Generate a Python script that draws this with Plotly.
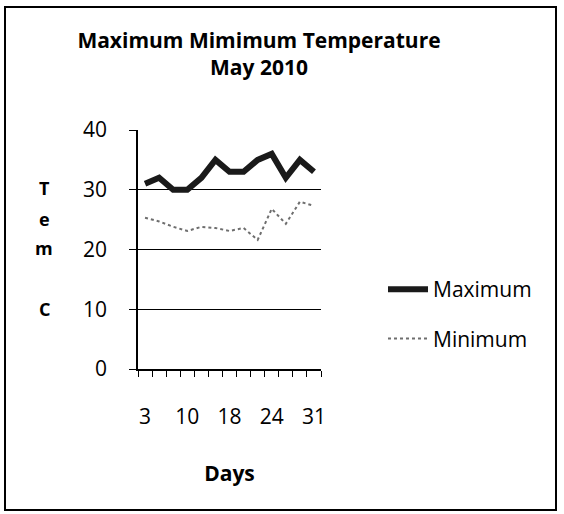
import plotly.graph_objects as go

# ---- data ----
days = [3, 5, 8, 10, 13, 15, 18, 20, 22, 24, 26, 29, 31]
maximum = [31, 32, 30, 30, 32, 35, 33, 33, 35, 36, 32, 35, 33]
minimum = [25.3, 24.7, 23.8, 23.1, 23.8, 23.6, 23.1, 23.6, 21.6, 26.8, 24.3, 28.0, 27.3]
label_every = 3
y_ticks = [0, 10, 20, 30, 40]

# the page's body margin is removed by a post script, so window px == figure px
W, H = 564, 514
# plot area in window pixels: x 138..321, y 130..369
ML, MT = 138, 130
PW, PH = 321 - 138, 369 - 130
MR, MB = W - ML - PW, H - MT - PH

def px_x(px):
    return (px - ML) / PW

def px_y(py):
    return (MT + PH - py) / PH

FONT = "Open Sans"
idx = list(range(len(days)))

fig = go.Figure()
fig.add_trace(go.Scatter(
    x=idx, y=maximum, name="Maximum", mode="lines",
    line=dict(color="#1a1a1a", width=6), legendgroup="a"))
fig.add_trace(go.Scatter(
    x=idx, y=minimum, name="Minimum", mode="lines",
    line=dict(color="#6e6e6e", width=2, dash="dot"), legendgroup="b"))

fig.update_layout(
    width=W, height=H,
    margin=dict(l=ML, r=MR, t=MT, b=MB),
    paper_bgcolor="white", plot_bgcolor="white",
    font=dict(family=FONT, color="black", size=21),
    title=dict(text="<b>Maximum Mimimum Temperature<br>May 2010</b>",
               font=dict(family=FONT, size=21, color="black"),
               xref="container", x=259 / W, xanchor="center",
               yref="container", y=1 - 48 / H, yanchor="top"),
    showlegend=True,
    legend=dict(x=px_x(383), y=px_y(269), xanchor="left", yanchor="top",
                font=dict(family=FONT, size=21, color="black"),
                traceorder="grouped", tracegroupgap=19,
                bgcolor="rgba(0,0,0,0)", itemwidth=40),
)

fig.update_xaxes(
    range=[-0.5, len(days) - 0.5],
    tickmode="array",
    tickvals=idx[::label_every],
    ticktext=[str(d) for d in days[::label_every]],
    ticks="", showgrid=False, zeroline=False,
    showline=True, linecolor="black", linewidth=1.5,
    tickfont=dict(family=FONT, size=21, color="black"),
    ticklabelstandoff=28,
    minor=dict(ticks="outside", tickmode="array",
               tickvals=[i - 0.5 for i in range(len(days) + 1)],
               ticklen=6, tickcolor="black", tickwidth=1, showgrid=False),
    title=dict(text="<b>Days</b>", font=dict(family=FONT, size=21, color="black"),
               standoff=37),
)

fig.update_yaxes(
    range=[0, 40], tickmode="array", tickvals=y_ticks,
    ticks="outside", ticklen=7, tickcolor="black", tickwidth=1,
    showgrid=True, gridcolor="black", gridwidth=1.3,
    zeroline=False, showline=True, linecolor="black", linewidth=1.5,
    tickfont=dict(family=FONT, size=21, color="black"),
    ticklabelstandoff=18,
)

# stacked y-axis title letters
for ch, py in [("T", 188), ("e", 219), ("m", 248), ("C", 309)]:
    fig.add_annotation(text="<b>%s</b>" % ch, xref="paper", yref="paper",
                       x=px_x(44), y=px_y(py), showarrow=False,
                       xanchor="center", yanchor="middle",
                       font=dict(family=FONT, size=18, color="black"))

# outer chart border
fig.add_shape(type="rect", xref="paper", yref="paper",
              x0=px_x(5), x1=px_x(556), y0=px_y(510), y1=px_y(7),
              line=dict(color="black", width=2), layer="below")

fig.write_html("out.html",
               config={"displayModeBar": False},
               post_script="document.body.style.margin='0';")
